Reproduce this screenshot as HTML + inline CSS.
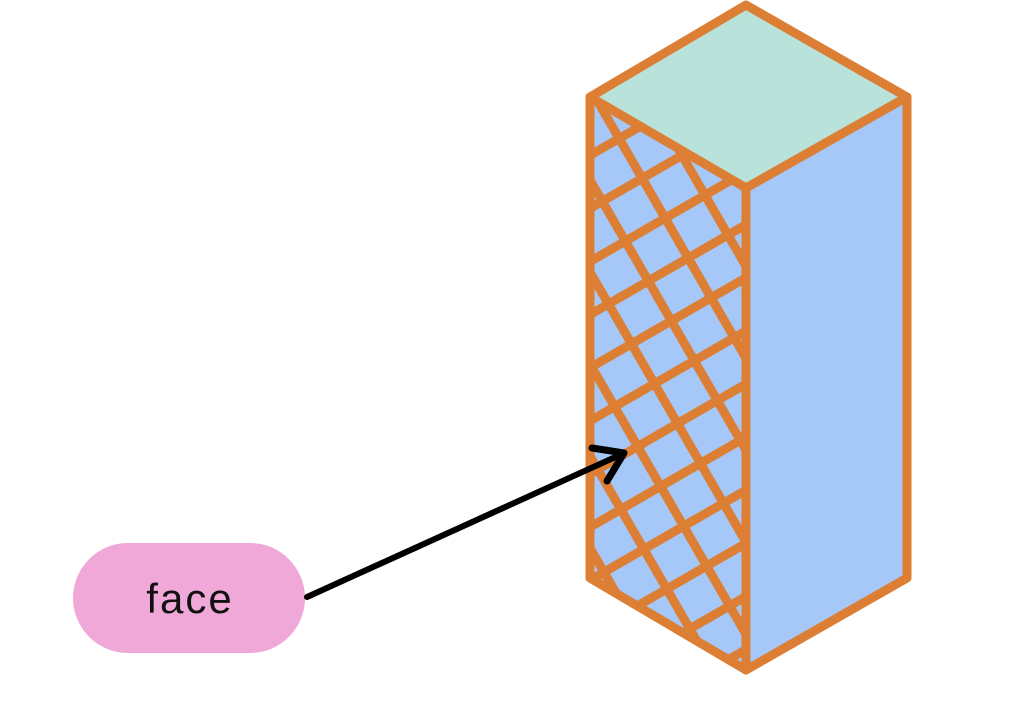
<!DOCTYPE html>
<html><head><style>
html,body{margin:0;padding:0;background:#fff;}
</style></head><body>
<svg width="1024" height="709" viewBox="0 0 1024 709" xmlns="http://www.w3.org/2000/svg">
<defs>
<pattern id="h" width="46" height="46" patternUnits="userSpaceOnUse" patternTransform="translate(590,97) rotate(-30)">
<rect width="46" height="46" fill="#a5c8f9"/>
<rect x="0" y="0" width="46" height="9" fill="#dc7f34"/>
<rect x="0" y="0" width="9" height="46" fill="#dc7f34"/>
</pattern>
</defs>
<polygon points="746,5 907,97 746,188 590,97" fill="#b8e2da" stroke="#dc7f34" stroke-width="9" stroke-linejoin="round"/>
<polygon points="746,188 907,97 907,578 746,670" fill="#a5c8f9" stroke="#dc7f34" stroke-width="9" stroke-linejoin="round"/>
<polygon points="590,97 746,188 746,670 590,578" fill="url(#h)" stroke="#dc7f34" stroke-width="9" stroke-linejoin="round"/>
<rect x="73" y="543" width="232" height="110" rx="55" fill="#f0a8d8"/>
<text x="190" y="613" text-anchor="middle" font-family="Liberation Sans, sans-serif" font-size="42" letter-spacing="2" fill="#111">face</text>
<line x1="307" y1="597" x2="622" y2="454" stroke="#000" stroke-width="6" stroke-linecap="round"/>
<polyline points="592,448 624,453 607,481" fill="none" stroke="#000" stroke-width="7" stroke-linecap="round" stroke-linejoin="round"/>
</svg>
</body></html>
